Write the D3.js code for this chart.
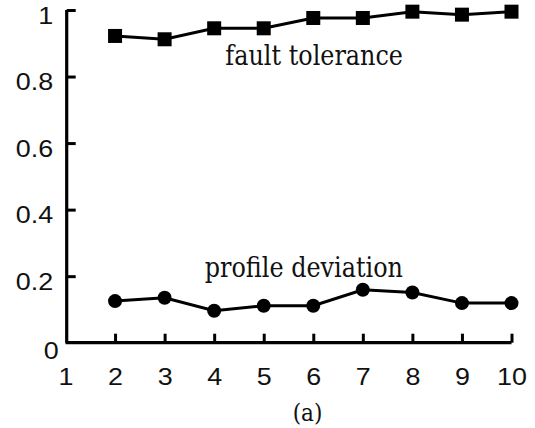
<!DOCTYPE html>
<html>
<head>
<meta charset="utf-8">
<script src="https://cdn.jsdelivr.net/npm/d3@7"></script>
<style>
  html, body { margin: 0; padding: 0; background: #fff; }
  svg { display: block; }
</style>
</head>
<body>
<svg id="chart" width="535" height="428"></svg>
<script>
// ---- data ----
const xValues = [2, 3, 4, 5, 6, 7, 8, 9, 10];
const faultTolerance = [0.922, 0.912, 0.945, 0.945, 0.976, 0.976, 0.995, 0.986, 0.995];
const profileDeviation = [0.125, 0.135, 0.096, 0.111, 0.111, 0.159, 0.151, 0.119, 0.119];
const xTickValues = [1, 2, 3, 4, 5, 6, 7, 8, 9, 10];
const yTickValues = [0, 0.2, 0.4, 0.6, 0.8, 1];
const seriesLabels = ["fault tolerance", "profile deviation"];
const labelPositions = [[7.81, 0.8356], [7.81, 0.198]];
const caption = "(a)";

// ---- layout ----
const svg = d3.select("#chart");
const x = d3.scaleLinear().domain([1, 10]).range([65.5, 511.5]);
const y = d3.scaleLinear().domain([0, 1]).range([342.7, 10]);
const sansFont = "Liberation Sans";
const serifFont = "DejaVu Serif";
const stretch = 1.12;
const serifScale = 0.885;

// y axis
const yAxis = svg.append("g")
  .attr("transform", `translate(${x(1) + 1.2},0)`)
  .call(d3.axisLeft(y).tickValues(yTickValues).tickSize(-9).tickPadding(14)
    .tickFormat(d => d === 0 ? "0" : (d === 1 ? "1" : d3.format(".1f")(d))));
// x axis
const xAxis = svg.append("g")
  .attr("transform", `translate(0,${y(0)})`)
  .call(d3.axisBottom(x).tickValues(xTickValues).tickSize(-9).tickPadding(14));

[yAxis, xAxis].forEach(g => {
  g.select(".domain").attr("stroke", "#000").attr("stroke-width", 3.2);
  g.selectAll(".tick line").attr("stroke", "#000").attr("stroke-width", 3);
  g.attr("font-family", sansFont).attr("font-size", 24);
  g.selectAll(".tick text").attr("fill", "#111");
});
xAxis.selectAll(".tick").filter(d => d === 1).select("line").remove();
yAxis.selectAll(".tick").filter(d => d === 0).select("line").remove();
yAxis.select(".domain").attr("d", `M0,${y(1)}V${y(0)}`);
xAxis.select(".domain").attr("d", `M${x(1)},0H${x(10)}`);

// stretched labels (positioned on their alphabetic baseline)
yAxis.selectAll(".tick text").each(function(d) {
  const t = d3.select(this);
  const xx = d === 0 ? -8 : -13.5;
  const dy = d === 0 ? 15.5 : 13;
  t.attr("x", 0).attr("dy", null)
   .attr("transform", `translate(${xx},${dy}) scale(${stretch},1)`);
});
xAxis.selectAll(".tick text").each(function() {
  const t = d3.select(this);
  t.attr("y", 0).attr("dy", null)
   .attr("transform", `translate(0,42) scale(${stretch},1)`);
});

// lines
const line = d3.line().x((d, i) => x(xValues[i])).y(d => y(d));
svg.append("path").datum(faultTolerance).attr("d", line)
  .attr("fill", "none").attr("stroke", "#000").attr("stroke-width", 3);
svg.append("path").datum(profileDeviation).attr("d", line)
  .attr("fill", "none").attr("stroke", "#000").attr("stroke-width", 3);

// markers
const sq = 14;
svg.append("g").selectAll("rect").data(faultTolerance).join("rect")
  .attr("x", (d, i) => x(xValues[i]) - sq / 2)
  .attr("y", d => y(d) - sq / 2)
  .attr("width", sq).attr("height", sq).attr("fill", "#000");
svg.append("g").selectAll("circle").data(profileDeviation).join("circle")
  .attr("cx", (d, i) => x(xValues[i]))
  .attr("cy", d => y(d))
  .attr("r", 7).attr("fill", "#000");

// series labels
svg.append("g").selectAll("text").data(seriesLabels).join("text")
  .attr("transform", (d, i) =>
    `translate(${x(labelPositions[i][0])},${y(labelPositions[i][1])}) scale(${serifScale},1)`)
  .attr("text-anchor", "end")
  .attr("font-family", serifFont).attr("font-size", 27)
  .attr("fill", "#111")
  .text(d => d);

// caption
svg.append("text")
  .attr("transform", `translate(307.5,421) scale(0.9,1)`)
  .attr("text-anchor", "middle")
  .attr("font-family", serifFont).attr("font-size", 24)
  .attr("fill", "#111")
  .text(caption);
</script>
</body>
</html>
